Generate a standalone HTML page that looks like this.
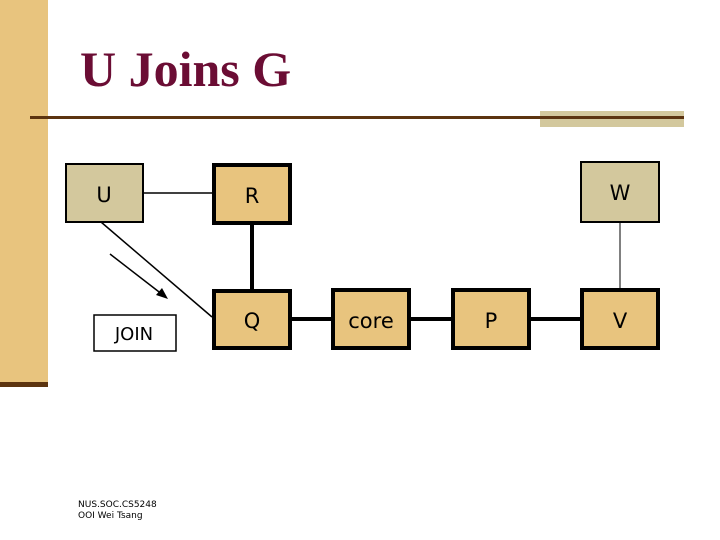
<!DOCTYPE html>
<html><head><meta charset="utf-8">
<style>
html,body{margin:0;padding:0;background:#fff;}
svg{display:block;}
</style></head>
<body>
<svg width="720" height="540" viewBox="0 0 720 540" xmlns="http://www.w3.org/2000/svg">
  <rect x="0" y="0" width="48" height="382" fill="#e8c47e"/>
  <rect x="0" y="382" width="48" height="5" fill="#5c3410"/>
  <rect x="540" y="111" width="144" height="16" fill="#d3c89d"/>
  <rect x="30" y="116" width="654" height="3" fill="#5c3410"/>
  <text x="80" y="86" font-family="Liberation Serif, serif" font-weight="bold" font-size="50" fill="#6b0d34">U Joins G</text>

  <line x1="143" y1="193" x2="212" y2="193" stroke="#000" stroke-width="1.5"/>
  <line x1="252" y1="223" x2="252" y2="290" stroke="#000" stroke-width="4"/>
  <line x1="101" y1="222" x2="212" y2="317" stroke="#000" stroke-width="1.5"/>
  <line x1="110" y1="254" x2="163" y2="295" stroke="#000" stroke-width="1.5"/>
  <polygon points="168,299 156,295 162,288" fill="#000"/>
  <line x1="292" y1="319" x2="580" y2="319" stroke="#000" stroke-width="4"/>
  <line x1="620" y1="222" x2="620" y2="290" stroke="#000" stroke-width="1"/>

  <rect x="66" y="164" width="77" height="58" fill="#d3c89d" stroke="#000" stroke-width="2"/>
  <rect x="581" y="162" width="78" height="60" fill="#d3c89d" stroke="#000" stroke-width="2"/>
  <rect x="214" y="165" width="76" height="58" fill="#e8c47e" stroke="#000" stroke-width="4"/>
  <rect x="214" y="291" width="76" height="57" fill="#e8c47e" stroke="#000" stroke-width="4"/>
  <rect x="333" y="290" width="76" height="58" fill="#e8c47e" stroke="#000" stroke-width="4"/>
  <rect x="453" y="290" width="76" height="58" fill="#e8c47e" stroke="#000" stroke-width="4"/>
  <rect x="582" y="290" width="76" height="58" fill="#e8c47e" stroke="#000" stroke-width="4"/>
  <rect x="94" y="315" width="82" height="36" fill="#fff" stroke="#000" stroke-width="1.5"/>

  <g font-family="DejaVu Sans, Liberation Sans, sans-serif" font-size="21" fill="#000" text-anchor="middle">
    <text x="104" y="202">U</text>
    <text x="252" y="203">R</text>
    <text x="620" y="200">W</text>
    <text x="252" y="328">Q</text>
    <text x="371" y="328">core</text>
    <text x="491" y="328">P</text>
    <text x="620" y="328">V</text>
    <text x="134" y="340" font-size="18">JOIN</text>
  </g>
  <g font-family="DejaVu Sans, Liberation Sans, sans-serif" font-size="9" fill="#000">
    <text x="78" y="507">NUS.SOC.CS5248</text>
    <text x="78" y="518">OOI Wei Tsang</text>
  </g>
</svg>
</body></html>
